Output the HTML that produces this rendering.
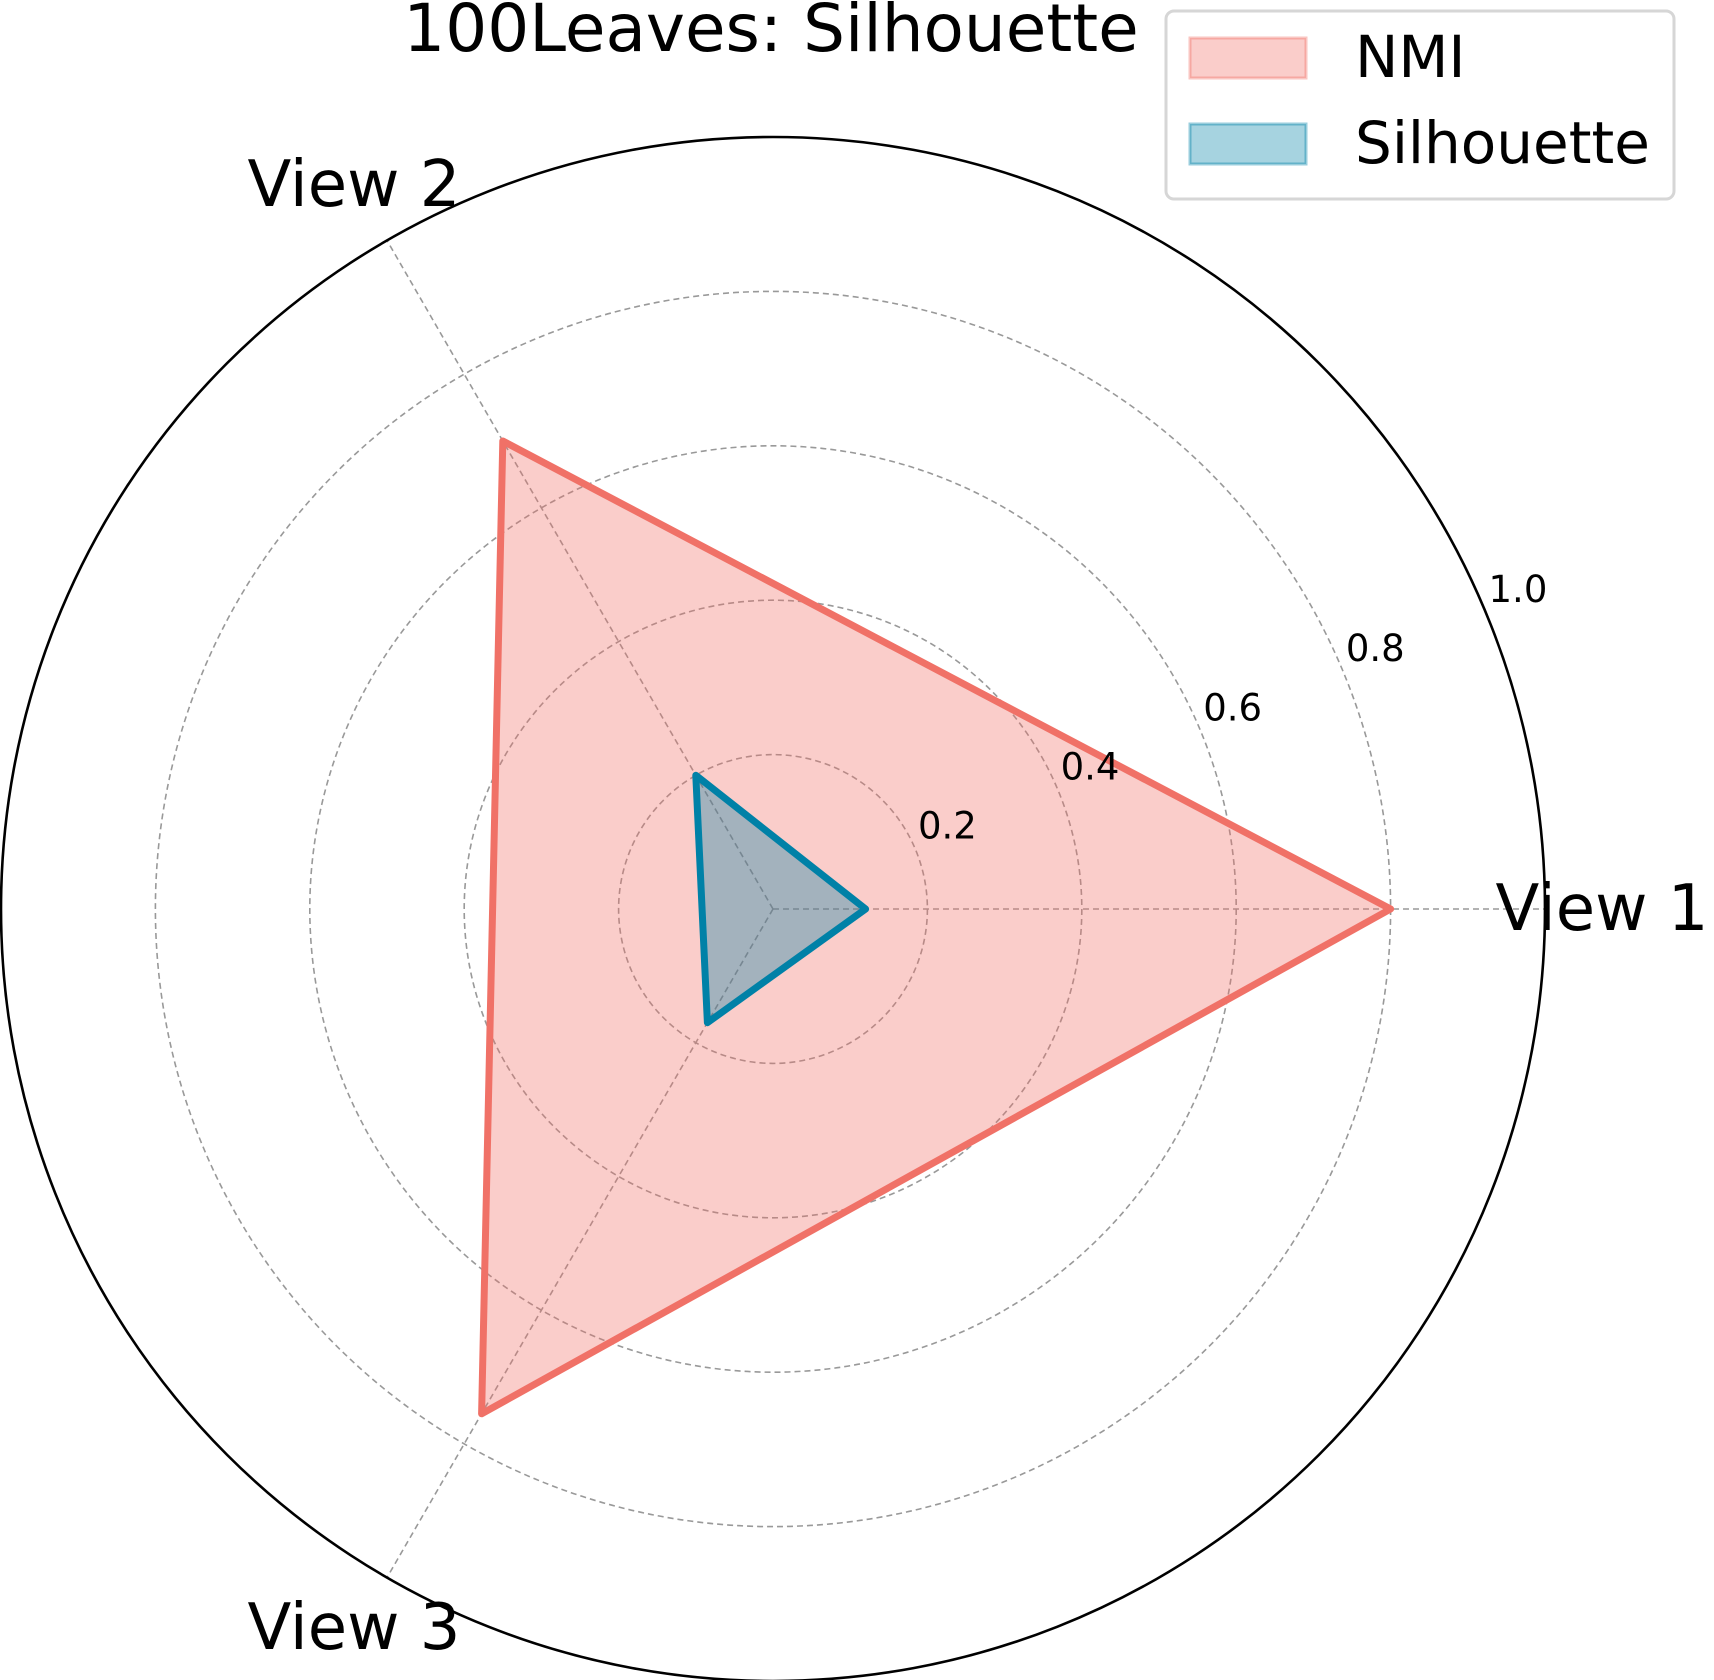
<!DOCTYPE html>
<html><head><meta charset="utf-8"><style>
html,body{margin:0;padding:0;background:#fff}
svg{display:block;font-family:"DejaVu Sans","Liberation Sans",sans-serif}
</style></head><body>
<svg id="chart" width="1714" height="1680" viewBox="0 0 1714 1680" xmlns="http://www.w3.org/2000/svg">
<text x="771" y="51" font-size="66" text-anchor="middle">100Leaves: Silhouette</text>
<g id="grid"></g>
<g id="series"></g>
<g id="labels"></g>
<g>
<rect x="1166" y="11" width="508" height="188" rx="8" fill="#fff" stroke="#d6d6d6" stroke-width="3"/>
<rect x="1190" y="38" width="116" height="40" fill="rgba(240,113,103,0.35)" stroke="rgba(240,113,103,0.4)" stroke-width="3"/>
<text x="1355" y="77" font-size="58">NMI</text>
<rect x="1190" y="124" width="116" height="40" fill="rgba(0,129,167,0.35)" stroke="rgba(0,129,167,0.4)" stroke-width="3"/>
<text x="1355" y="163" font-size="58">Silhouette</text>
</g>
</svg>
<script>
const categories = ["View 1", "View 2", "View 3"];
const nmiValues = [0.80, 0.70, 0.755];
const silValues = [0.12, 0.20, 0.17];
const rTicks = [0.2, 0.4, 0.6, 0.8];
const rTickLabels = ["0.2", "0.4", "0.6", "0.8", "1.0"];

const NS = "http://www.w3.org/2000/svg";
const cx = 773, cy = 909, R = 772;
function ang(i){ return i * 2 * Math.PI / categories.length; }
function px(v,i){ return cx + v*R*Math.cos(ang(i)); }
function py(v,i){ return cy - v*R*Math.sin(ang(i)); }
function mk(tag, attrs, parent){ const e=document.createElementNS(NS,tag); for(const k in attrs) e.setAttribute(k,attrs[k]); parent.appendChild(e); return e; }

const grid = document.getElementById('grid');
rTicks.forEach((t,k)=>{
  const c = mk('circle',{cx:cx,cy:cy,r:t*R,fill:'none',stroke:'#999','stroke-width':1.6,'stroke-dasharray':'6,4'},grid);
  
  
});
categories.forEach((c,i)=>{
  const l = mk('line',{x1:cx,y1:cy,x2:px(1,i),y2:py(1,i),stroke:'#999','stroke-width':1.6,'stroke-dasharray':'6,4'},grid);
  
  
});
const outer = mk('circle',{cx:cx,cy:cy,r:R,fill:'none',stroke:'#000','stroke-width':2.6},grid);



const series = document.getElementById('series');
function poly(vals, stroke, fill, name){
  const pts = vals.map((v,i)=>px(v,i).toFixed(1)+','+py(v,i).toFixed(1)).join(' ');
  const p = mk('polygon',{points:pts,fill:fill,stroke:stroke,'stroke-width':7,'stroke-linejoin':'round'},series);
  
  
}
poly(nmiValues, '#F07167', 'rgba(240,113,103,0.35)', 'nmi-area');
poly(silValues, '#0081A7', 'rgba(0,129,167,0.35)', 'silhouette-area');

const labels = document.getElementById('labels');
const tickAng = 22.5*Math.PI/180;
rTickLabels.forEach((t,k)=>{
  const v = (k+1)*0.2;
  const r = v*R + 30;
  const tx = mk('text',{x:cx + r*Math.cos(tickAng)+4, y:cy - r*Math.sin(tickAng)+0,'font-size':37,'text-anchor':'middle'},labels);
  tx.textContent = t;
  
  
});
const catPos = [[1602,930,'middle'],[354,206,'middle'],[354,1649,'middle']];
categories.forEach((c,i)=>{
  const t = mk('text',{x:catPos[i][0],y:catPos[i][1],'font-size':64,'text-anchor':catPos[i][2]},labels);
  t.textContent = c;
  
  
});
</script>
</body></html>
